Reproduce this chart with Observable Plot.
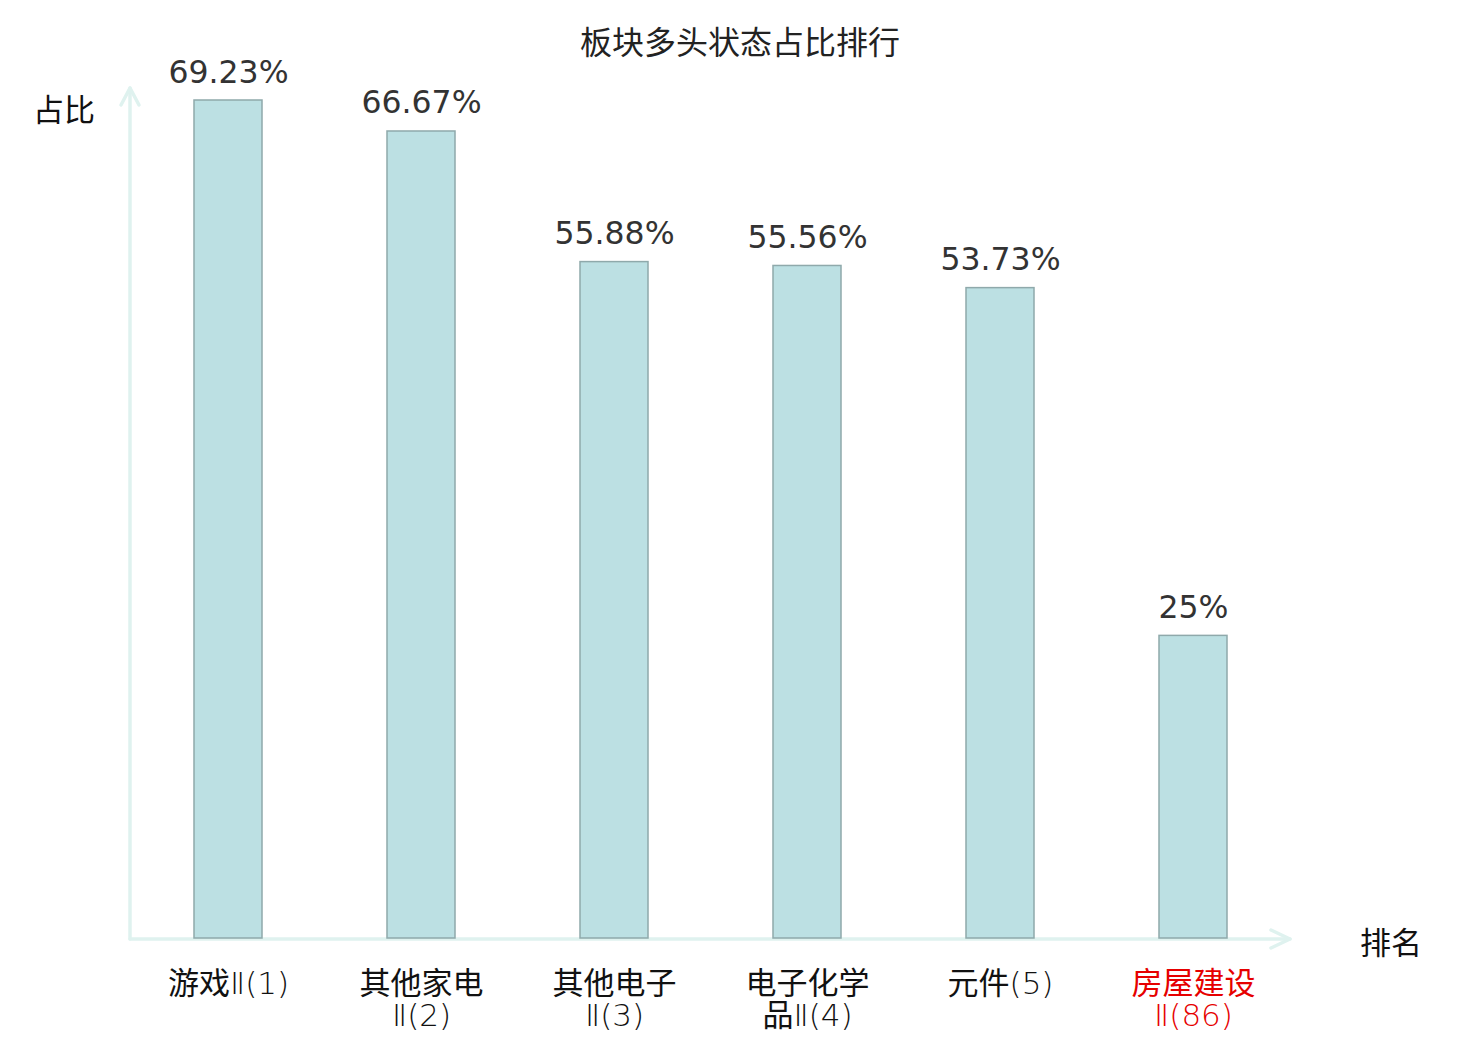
<!DOCTYPE html>
<html>
<head>
<meta charset="utf-8">
<script src="https://cdn.jsdelivr.net/npm/d3@7"></script>
<script src="https://cdn.jsdelivr.net/npm/@observablehq/plot@0.6"></script>
<style>
  html, body { margin: 0; padding: 0; background: #fff; }
  #wrap { position: relative; width: 1480px; height: 1040px; }
  #title { position: absolute; left: 0; top: 18px; width: 1480px; text-align: center;
    font-family: "Noto Sans CJK SC", sans-serif; font-size: 32px; color: #222; line-height: 44px; }
  .axlab { position: absolute; font-family: "Noto Sans CJK SC", sans-serif; font-size: 31px; color: #111; line-height: 40px; }
</style>
</head>
<body>
<div id="wrap">
  <div id="title">板块多头状态占比排行</div>
  <div class="axlab" style="left:33px; top:88px;">占比</div>
  <div class="axlab" style="left:1360px; top:921px;">排名</div>
</div>
<script>
const categories = ["游戏Ⅱ(1)", "其他家电Ⅱ(2)", "其他电子Ⅱ(3)", "电子化学品Ⅱ(4)", "元件(5)", "房屋建设Ⅱ(86)"];
const tickLabels = ["游戏Ⅱ(1)", "其他家电\nⅡ(2)", "其他电子\nⅡ(3)", "电子化学\n品Ⅱ(4)", "元件(5)", "房屋建设\nⅡ(86)"];
const values = [69.23, 66.67, 55.88, 55.56, 53.73, 25];
const valueLabels = ["69.23%", "66.67%", "55.88%", "55.56%", "53.73%", "25%"];
const labelColors = ["#111", "#111", "#111", "#111", "#111", "#e60000"];

const rows = categories.map((c, i) => ({cat: c, value: values[i], vlabel: valueLabels[i], tlabel: tickLabels[i], color: labelColors[i]}));

const axisColor = "#dff2ef";

function axesMark(index, scales, values, dimensions, context) {
  const {width, height, marginLeft, marginRight, marginTop, marginBottom} = dimensions;
  const x0 = marginLeft;
  const y0 = height - marginBottom + 1;
  const xEnd = width - marginRight;
  const yEnd = marginTop - 12;
  const g = d3.create("svg:g").attr("fill", "none").attr("stroke", axisColor).attr("stroke-width", 3.5).attr("stroke-linecap", "round").attr("stroke-linejoin", "round");
  g.append("path").attr("d", `M${x0},${y0}L${xEnd},${y0}`);
  g.append("path").attr("d", `M${xEnd - 19},${y0 - 9}L${xEnd},${y0}L${xEnd - 19},${y0 + 9}`);
  g.append("path").attr("d", `M${x0},${y0}L${x0},${yEnd}`);
  g.append("path").attr("d", `M${x0 - 9},${yEnd + 17}L${x0},${yEnd}L${x0 + 9},${yEnd + 17}`);
  return g.node();
}

const chart = Plot.plot({
  width: 1480,
  height: 1040,
  marginLeft: 130,
  marginRight: 190,
  marginTop: 100,
  marginBottom: 102,
  style: {background: "transparent"},
  x: {domain: categories, paddingInner: 0.65, paddingOuter: 0.325, axis: null},
  y: {domain: [0, 69.23], axis: null},
  color: {type: "identity"},
  marks: [
    axesMark,
    Plot.barY(rows, {x: "cat", y: "value", fill: "#bce0e3", stroke: "#8fa9ab", strokeWidth: 1.5}),
    Plot.text(rows, {x: "cat", y: "value", text: "vlabel", lineAnchor: "bottom", dy: -18,
      fontSize: 31.5, fill: "#333", fontFamily: "'DejaVu Sans', 'Noto Sans CJK SC', sans-serif"}),
    Plot.text(rows, {x: "cat", frameAnchor: "bottom", text: "tlabel", lineAnchor: "top", dy: 33,
      lineHeight: 1.03, fontSize: 31, fontWeight: 200, fill: "color", className: "ticklab",
      fontFamily: "'DejaVu Sans', 'Noto Sans CJK SC', sans-serif"})
  ]
});

// give CJK runs a regular weight while Latin/Roman parts stay extra-light
const cjk = /[\u3400-\u9fff]+/g;
d3.select(chart).selectAll("g.ticklab text").each(function() {
  const textEl = this;
  const targets = textEl.querySelectorAll("tspan").length ? Array.from(textEl.querySelectorAll("tspan")) : [textEl];
  targets.forEach(el => {
    const s = el.textContent;
    el.textContent = "";
    let last = 0;
    s.replace(cjk, (m, off) => {
      if (off > last) d3.select(el).append("tspan").text(s.slice(last, off));
      d3.select(el).append("tspan").attr("font-family", "'Noto Sans CJK SC', sans-serif").attr("font-weight", 400).text(m);
      last = off + m.length;
      return m;
    });
    if (last < s.length) d3.select(el).append("tspan").text(s.slice(last));
  });
});

chart.style.position = "absolute";
chart.style.left = "0px";
chart.style.top = "0px";
chart.style.overflow = "visible";
document.getElementById("wrap").prepend(chart);
</script>
</body>
</html>
